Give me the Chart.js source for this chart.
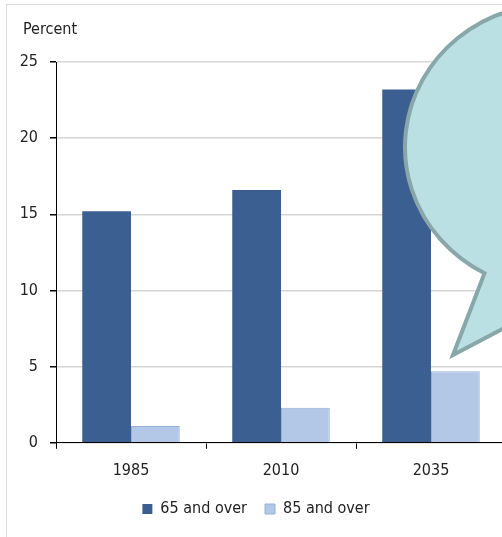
<!DOCTYPE html>
<html>
<head>
<meta charset="utf-8">
<script src="https://cdn.jsdelivr.net/npm/chart.js@4.4.0/dist/chart.umd.min.js"></script>
<style>
  body { margin: 0; width: 502px; height: 537px; overflow: hidden; background: #fff; position: relative;
         font-family: 'Liberation Sans Narrow', 'DejaVu Sans Condensed', 'Liberation Sans', sans-serif; }
  #frame { position: absolute; left: 6px; top: 4px; width: 600px; height: 600px;
           border-left: 1px solid #dcdcdc; border-top: 1px solid #dcdcdc; }
  #wrap { position: absolute; left: 0; top: 0; width: 510px; height: 537px; }
  #unit { position: absolute; left: 23px; top: 20px; font-size: 16px; line-height: 18px; color: #222; }
</style>
</head>
<body>
<div id="frame"></div>
<div id="wrap"><canvas id="chart"></canvas></div>
<div id="unit">Percent</div>
<script>
"use strict";

// chart data
const years = ["1985", "2010", "2035"];
const over65 = [15.2, 16.6, 23.2];
const over85 = [1.1, 2.3, 4.7];
const seriesNames = ["65 and over", "85 and over"];
const yTicks = [0, 5, 10, 15, 20, 25];

(function() {
  window.addEventListener("load", init);

  const FONT = "'Liberation Sans Narrow', 'DejaVu Sans Condensed', 'Liberation Sans', sans-serif";
  const TEXT = "#222";

  // the speech bubble that sits over the right side of the chart
  const bubble = {
    id: "bubble",
    afterDraw(chart) {
      const ctx = chart.ctx;
      const cx = 555, cy = 147, rx = 150, ry = 143;
      const t1 = 2.06, t2 = 1.4;
      ctx.save();
      ctx.beginPath();
      ctx.moveTo(453, 355);
      ctx.lineTo(cx + rx * Math.cos(t1), cy + ry * Math.sin(t1));
      ctx.ellipse(cx, cy, rx, ry, 0, t1, t2, false);
      ctx.closePath();
      ctx.fillStyle = "#bbe0e3";
      ctx.strokeStyle = "#87a7a8";
      ctx.lineWidth = 4;
      ctx.lineJoin = "miter";
      ctx.fill();
      ctx.stroke();
      ctx.restore();
    }
  };

  function init() {
    Chart.defaults.font.family = FONT;
    Chart.defaults.font.size = 16;
    Chart.defaults.color = TEXT;

    new Chart(id("chart"), {
      type: "bar",
      data: {
        labels: years,
        datasets: [{
          label: seriesNames[0],
          data: over65,
          backgroundColor: "#3c5f91",
          borderWidth: 0
        }, {
          label: seriesNames[1],
          data: over85,
          backgroundColor: "#b3c8e6",
          borderColor: "#97b1d8",
          borderWidth: 1
        }]
      },
      options: {
        responsive: true,
        maintainAspectRatio: false,
        animation: false,
        layout: { padding: { left: 6, right: 4, top: 62, bottom: 10 } },
        datasets: { bar: { barPercentage: 1, categoryPercentage: 0.65 } },
        plugins: {
          tooltip: { enabled: false },
          legend: {
            position: "bottom",
            labels: {
              boxWidth: 10,
              boxHeight: 10,
              padding: 18,
              color: TEXT,
              font: { size: 16 }
            }
          }
        },
        scales: {
          x: {
            grid: { drawOnChartArea: false, tickLength: 6, tickColor: "#000", offset: true },
            border: { color: "#000", width: 1 },
            ticks: { padding: 12, color: TEXT },
            afterFit(scale) {
              scale.height = scale.height - 9;
            }
          },
          y: {
            min: yTicks[0],
            max: yTicks[yTicks.length - 1],
            afterBuildTicks(scale) {
              scale.ticks = yTicks.map(v => ({ value: v }));
            },
            afterFit(scale) {
              scale.width = 50;
            },
            grid: { color: "#d6d6d6", lineWidth: 1.5, tickLength: 6, tickColor: "#000" },
            border: { color: "#000", width: 1 },
            ticks: { padding: 12, color: TEXT }
          }
        }
      },
      plugins: [bubble]
    });
  }

  function id(name) {
    return document.getElementById(name);
  }
})();
</script>
</body>
</html>
